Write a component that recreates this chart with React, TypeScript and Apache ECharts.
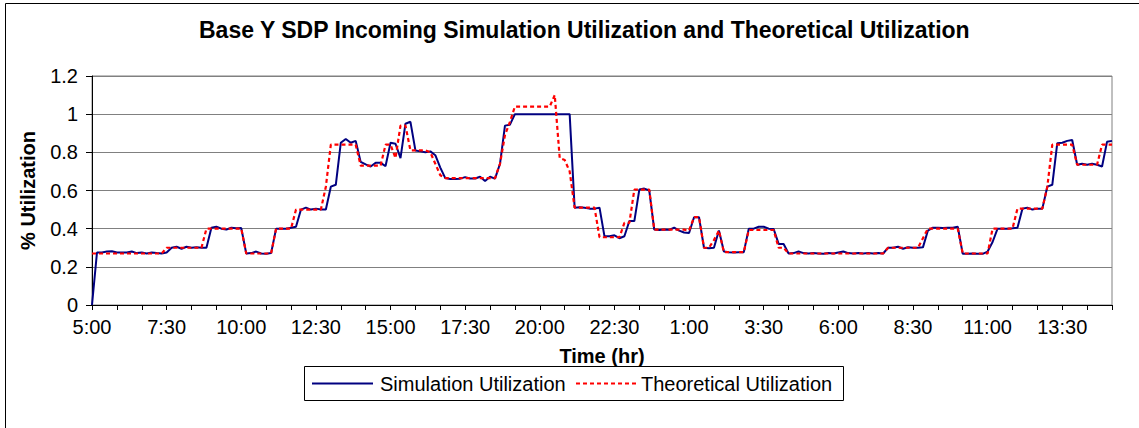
import React, { useEffect, useRef } from "react";
import * as echarts from "echarts";

// Time axis: 10-minute samples starting at 5:00
const startMinutes = 5 * 60;
const stepMinutes = 10;
const pointCount = 206;

const simulationUtilization = [
  0, 0.275, 0.275, 0.28, 0.282, 0.275, 0.275, 0.275, 0.28, 0.272,
  0.275, 0.27, 0.275, 0.272, 0.27, 0.275, 0.3, 0.305, 0.295, 0.305,
  0.3, 0.302, 0.3, 0.3, 0.405, 0.41, 0.4, 0.395, 0.405, 0.402,
  0.403, 0.27, 0.272, 0.28, 0.27, 0.268, 0.272, 0.4, 0.4, 0.4,
  0.405, 0.41, 0.5, 0.51, 0.5, 0.505, 0.5, 0.5, 0.62, 0.63,
  0.85, 0.87, 0.85, 0.86, 0.75, 0.737, 0.726, 0.745, 0.745, 0.728,
  0.85, 0.845, 0.77, 0.95, 0.96, 0.81, 0.805, 0.8, 0.805, 0.785,
  0.72, 0.665, 0.66, 0.66, 0.662, 0.67, 0.663, 0.663, 0.672, 0.65,
  0.672, 0.662, 0.74, 0.94, 0.945, 1, 1, 1, 1, 1,
  1, 1, 1, 1, 1, 1, 1, 0.51, 0.512, 0.51,
  0.505, 0.505, 0.51, 0.36, 0.36, 0.365, 0.35, 0.36, 0.44, 0.44,
  0.605, 0.61, 0.6, 0.395, 0.393, 0.395, 0.394, 0.405, 0.39, 0.38,
  0.377, 0.46, 0.46, 0.3, 0.298, 0.3, 0.39, 0.28, 0.277, 0.275,
  0.276, 0.277, 0.4, 0.4, 0.41, 0.41, 0.4, 0.398, 0.32, 0.32,
  0.27, 0.272, 0.28, 0.272, 0.27, 0.272, 0.27, 0.268, 0.272, 0.27,
  0.275, 0.28, 0.272, 0.27, 0.272, 0.27, 0.272, 0.27, 0.272, 0.27,
  0.3, 0.3, 0.305, 0.295, 0.303, 0.3, 0.3, 0.302, 0.39, 0.405,
  0.405, 0.403, 0.405, 0.405, 0.41, 0.268, 0.268, 0.27, 0.268, 0.268,
  0.28, 0.33, 0.4, 0.4, 0.4, 0.402, 0.405, 0.505, 0.51, 0.5,
  0.505, 0.505, 0.62, 0.63, 0.848, 0.85, 0.86, 0.865, 0.735, 0.74,
  0.735, 0.74, 0.735, 0.726, 0.855, 0.86,
];

const theoreticalUtilization = [
  0.27, 0.27, 0.27, 0.27, 0.27, 0.27, 0.27, 0.27, 0.27, 0.27,
  0.27, 0.27, 0.27, 0.27, 0.27, 0.3, 0.3, 0.3, 0.3, 0.3,
  0.3, 0.3, 0.3, 0.4, 0.4, 0.4, 0.4, 0.4, 0.4, 0.4,
  0.4, 0.27, 0.27, 0.27, 0.27, 0.27, 0.27, 0.4, 0.4, 0.4,
  0.4, 0.5, 0.5, 0.5, 0.5, 0.5, 0.5, 0.62, 0.84, 0.84,
  0.84, 0.84, 0.84, 0.84, 0.73, 0.73, 0.73, 0.73, 0.73, 0.84,
  0.84, 0.77, 0.94, 0.94, 0.81, 0.81, 0.81, 0.81, 0.8, 0.74,
  0.68, 0.665, 0.665, 0.665, 0.665, 0.665, 0.665, 0.665, 0.665, 0.665,
  0.665, 0.665, 0.74, 0.89, 0.96, 1.04, 1.04, 1.04, 1.04, 1.04,
  1.04, 1.04, 1.04, 1.1, 0.77, 0.76, 0.7, 0.51, 0.51, 0.51,
  0.51, 0.51, 0.355, 0.355, 0.355, 0.355, 0.355, 0.43, 0.43, 0.605,
  0.605, 0.605, 0.605, 0.395, 0.395, 0.395, 0.395, 0.395, 0.395, 0.395,
  0.39, 0.46, 0.46, 0.3, 0.3, 0.34, 0.39, 0.277, 0.277, 0.277,
  0.277, 0.277, 0.393, 0.393, 0.393, 0.393, 0.393, 0.393, 0.3, 0.3,
  0.27, 0.27, 0.27, 0.27, 0.27, 0.27, 0.27, 0.27, 0.27, 0.27,
  0.27, 0.27, 0.27, 0.27, 0.27, 0.27, 0.27, 0.27, 0.27, 0.27,
  0.3, 0.3, 0.3, 0.3, 0.3, 0.3, 0.3, 0.35, 0.4, 0.4,
  0.4, 0.4, 0.4, 0.4, 0.4, 0.27, 0.27, 0.27, 0.27, 0.27,
  0.27, 0.4, 0.4, 0.4, 0.4, 0.4, 0.505, 0.505, 0.505, 0.505,
  0.505, 0.505, 0.62, 0.84, 0.84, 0.84, 0.84, 0.84, 0.735, 0.735,
  0.735, 0.735, 0.735, 0.84, 0.84, 0.84,
];

const yTicks = [0, 0.2, 0.4, 0.6, 0.8, 1, 1.2];
const seriesNames = ["Simulation Utilization", "Theoretical Utilization"];

const timeLabels: string[] = [];
for (let i = 0; i < pointCount; i++) {
  const t = (startMinutes + i * stepMinutes) % 1440;
  const h = Math.floor(t / 60);
  const m = t % 60;
  timeLabels.push(`${h}:${m < 10 ? "0" + m : m}`);
}

const FONT = "'Liberation Sans', Arial, sans-serif";
const BLUE = "#000080";
const RED = "#ff0000";

export default function App() {
  const ref = useRef<HTMLDivElement>(null);

  useEffect(() => {
    if (!ref.current) return;
    const chart = echarts.init(ref.current, null, { renderer: "svg" });
    const legendY = 383.5;
    chart.setOption({
      animation: false,
      backgroundColor: "#ffffff",
      textStyle: { fontFamily: FONT },
      title: {
        text: "Base Y SDP Incoming Simulation Utilization and Theoretical Utilization",
        left: 194,
        top: 13,
        textStyle: { fontSize: 23, fontWeight: "bold", color: "#000", fontFamily: FONT },
      },
      graphic: [
        {
          type: "rect",
          shape: { x: 5.5, y: 3.5, width: 1145, height: 440 },
          style: { fill: "none", stroke: "#000", lineWidth: 1 },
          silent: true,
          z: 100,
        },
        {
          type: "rect",
          shape: { x: 304.5, y: 366.5, width: 539, height: 34 },
          style: { fill: "#fff", stroke: "#000", lineWidth: 1 },
          silent: true,
          z: 100,
        },
        {
          type: "line",
          shape: { x1: 312, y1: legendY, x2: 373, y2: legendY },
          style: { stroke: BLUE, lineWidth: 2 },
          silent: true,
          z: 101,
        },
        {
          type: "text",
          x: 380,
          y: legendY,
          style: {
            text: seriesNames[0],
            font: `20px ${FONT}`,
            fill: "#000",
            textVerticalAlign: "middle",
            verticalAlign: "middle",
          },
          silent: true,
          z: 101,
        },
        {
          type: "line",
          shape: { x1: 576, y1: legendY, x2: 636, y2: legendY },
          style: { stroke: RED, lineWidth: 2.2, lineDash: [4, 3] },
          silent: true,
          z: 101,
        },
        {
          type: "text",
          x: 641,
          y: legendY,
          style: {
            text: seriesNames[1],
            font: `20px ${FONT}`,
            fill: "#000",
            textVerticalAlign: "middle",
            verticalAlign: "middle",
          },
          silent: true,
          z: 101,
        },
      ],
      grid: {
        left: 92,
        right: 27,
        top: 76,
        bottom: 123,
        show: true,
        borderColor: "#808080",
        borderWidth: 1,
        backgroundColor: "#ffffff",
      },
      xAxis: {
        type: "category",
        data: timeLabels,
        boundaryGap: false,
        name: "Time (hr)",
        nameLocation: "middle",
        nameGap: 41,
        nameTextStyle: { fontSize: 20, fontWeight: "bold", color: "#000", fontFamily: FONT },
        axisLine: { lineStyle: { color: "#000", width: 1 } },
        axisTick: { interval: 4, length: 5, lineStyle: { color: "#000" } },
        axisLabel: { interval: 14, margin: 12, fontSize: 20, color: "#000", fontFamily: FONT },
        splitLine: { show: false },
      },
      yAxis: {
        type: "value",
        min: yTicks[0],
        max: yTicks[yTicks.length - 1],
        interval: 0.2,
        name: "% Utilization",
        nameLocation: "middle",
        nameGap: 54,
        nameTextStyle: { fontSize: 20, fontWeight: "bold", color: "#000", fontFamily: FONT },
        axisLine: { show: true, lineStyle: { color: "#000", width: 1 } },
        axisTick: { show: true, length: 6, lineStyle: { color: "#000" } },
        axisLabel: { margin: 14, fontSize: 20, color: "#000", fontFamily: FONT },
        splitLine: { show: true, lineStyle: { color: "#808080", width: 1 } },
      },
      series: [
        {
          name: seriesNames[0],
          type: "line",
          data: simulationUtilization,
          symbol: "none",
          lineStyle: { color: BLUE, width: 2 },
          itemStyle: { color: BLUE },
          z: 2,
        },
        {
          name: seriesNames[1],
          type: "line",
          data: theoreticalUtilization,
          symbol: "none",
          lineStyle: { color: RED, width: 2.2, type: [4, 3] },
          itemStyle: { color: RED },
          z: 3,
        },
      ],
    });
    return () => chart.dispose();
  }, []);

  return (
    <div
      ref={ref}
      style={{ position: "fixed", left: 0, top: 0, width: 1139, height: 428, background: "#fff" }}
    />
  );
}
